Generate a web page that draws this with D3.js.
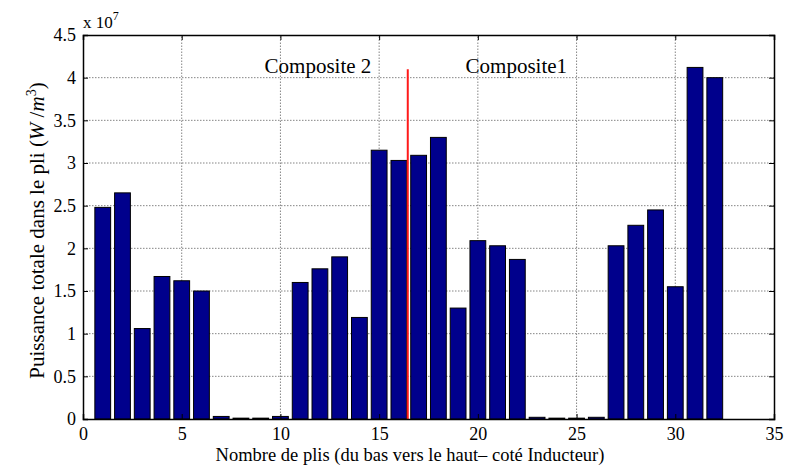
<!DOCTYPE html>
<html><head><meta charset="utf-8">
<script src="https://cdn.jsdelivr.net/npm/d3@7"></script>
<style>body{margin:0;background:#fff}svg{display:block}text{font-family:"Liberation Serif","Times New Roman",serif;fill:#000}</style>
</head><body><div id="c"></div>
<script>
const plies = d3.range(1, 33);
const power = [2.48, 2.65, 1.06, 1.67, 1.62, 1.50, 0.03, 0.01, 0.01, 0.03,
               1.60, 1.76, 1.90, 1.19, 3.15, 3.03, 3.09, 3.30, 1.30, 2.09,
               2.03, 1.87, 0.02, 0.01, 0.01, 0.02, 2.03, 2.27, 2.45, 1.55,
               4.12, 4.00];
const xTicks = [0, 5, 10, 15, 20, 25, 30, 35];
const yTicks = [0, 0.5, 1, 1.5, 2, 2.5, 3, 3.5, 4, 4.5];
const yTickLabels = ["0", "0.5", "1", "1.5", "2", "2.5", "3", "3.5", "4", "4.5"];
const divider = 16.45, dividerTop = 4.1;
const annotations = [{label: "Composite 2", x: 11.9, y: 4.06}, {label: "Composite1", x: 21.95, y: 4.06}];

const W = 798, H = 472;
const m = {l: 83, r: 24, t: 35, b: 53};
const svg = d3.select("#c").append("svg").attr("width", W).attr("height", H);
const x = d3.scaleLinear().domain([0, 35]).range([m.l, W - m.r]);
const y = d3.scaleLinear().domain([0, 4.5]).range([H - m.b, m.t]);
const g = svg.append("g");

// grid
g.selectAll(".gx").data(xTicks.slice(1, -1)).join("line")
  .attr("x1", d => x(d)).attr("x2", d => x(d)).attr("y1", y(0)).attr("y2", y(4.5))
  .attr("stroke", "#777").attr("stroke-dasharray", "1.5,1.5").attr("stroke-width", 0.9);
g.selectAll(".gy").data(yTicks.slice(1, -1)).join("line")
  .attr("y1", d => y(d)).attr("y2", d => y(d)).attr("x1", x(0)).attr("x2", x(35))
  .attr("stroke", "#777").attr("stroke-dasharray", "1.5,1.5").attr("stroke-width", 0.9);

// bars
const bw = 0.8;
g.selectAll(".bar").data(plies).join("rect")
  .attr("x", (d) => x(d - bw / 2)).attr("width", x(bw) - x(0))
  .attr("y", (d, i) => y(power[i])).attr("height", (d, i) => y(0) - y(power[i]))
  .attr("fill", "#00008c").attr("stroke", "#000").attr("stroke-width", 1);

// divider
g.append("line").attr("x1", x(divider)).attr("x2", x(divider)).attr("y1", y(0)).attr("y2", y(dividerTop))
  .attr("stroke", "#ff1a1a").attr("stroke-width", 2);

// axes
const tk = 5;
const ax = g.append("g").attr("transform", `translate(0,${y(0)})`)
  .call(d3.axisBottom(x).tickValues(xTicks).tickSize(-tk).tickPadding(8).tickFormat(d3.format("d")));
const axT = g.append("g").attr("transform", `translate(0,${y(4.5)})`)
  .call(d3.axisTop(x).tickValues(xTicks).tickSize(-tk).tickFormat(""));
const ay = g.append("g").attr("transform", `translate(${x(0)},0)`)
  .call(d3.axisLeft(y).tickValues(yTicks).tickSize(-tk).tickPadding(7).tickFormat((d, i) => yTickLabels[i]));
const ayR = g.append("g").attr("transform", `translate(${x(35)},0)`)
  .call(d3.axisRight(y).tickValues(yTicks).tickSize(-tk).tickFormat(""));
[ax, axT, ay, ayR].forEach(a => {
  a.select(".domain").attr("stroke", "#000").attr("stroke-width", 1.5);
  a.selectAll(".tick line").attr("stroke", "#000");
  a.selectAll("text").style("font-size", "18px").style("font-family", "Liberation Serif, serif").attr("fill", "#000");
});
ax.selectAll("text").attr("dy", "0.72em");

// annotations
g.selectAll(".ann").data(annotations).join("text")
  .attr("x", d => x(d.x)).attr("y", d => y(d.y)).attr("text-anchor", "middle")
  .style("font-size", "21px").text(d => d.label);

// exponent
const ex = svg.append("text").attr("x", x(0)).attr("y", 28).style("font-size", "17px");
ex.append("tspan").text("x 10");
ex.append("tspan").attr("dy", -8).style("font-size", "12px").text("7");

// axis titles
svg.append("text").attr("x", 410).attr("y", 461).attr("text-anchor", "middle").style("font-size", "18.5px")
  .text("Nombre de plis (du bas vers le haut– coté Inducteur)");
const yt = svg.append("text").attr("transform", `translate(44,230.5) rotate(-90)`)
  .attr("text-anchor", "middle").style("font-size", "21px");
yt.append("tspan").text("Puissance totale dans le pli (");
yt.append("tspan").style("font-style", "italic").text("W");
yt.append("tspan").text(" /");
yt.append("tspan").style("font-style", "italic").text("m");
yt.append("tspan").attr("dy", -8).style("font-size", "14px").text("3");
yt.append("tspan").attr("dy", 8).text(")");
</script></body></html>
